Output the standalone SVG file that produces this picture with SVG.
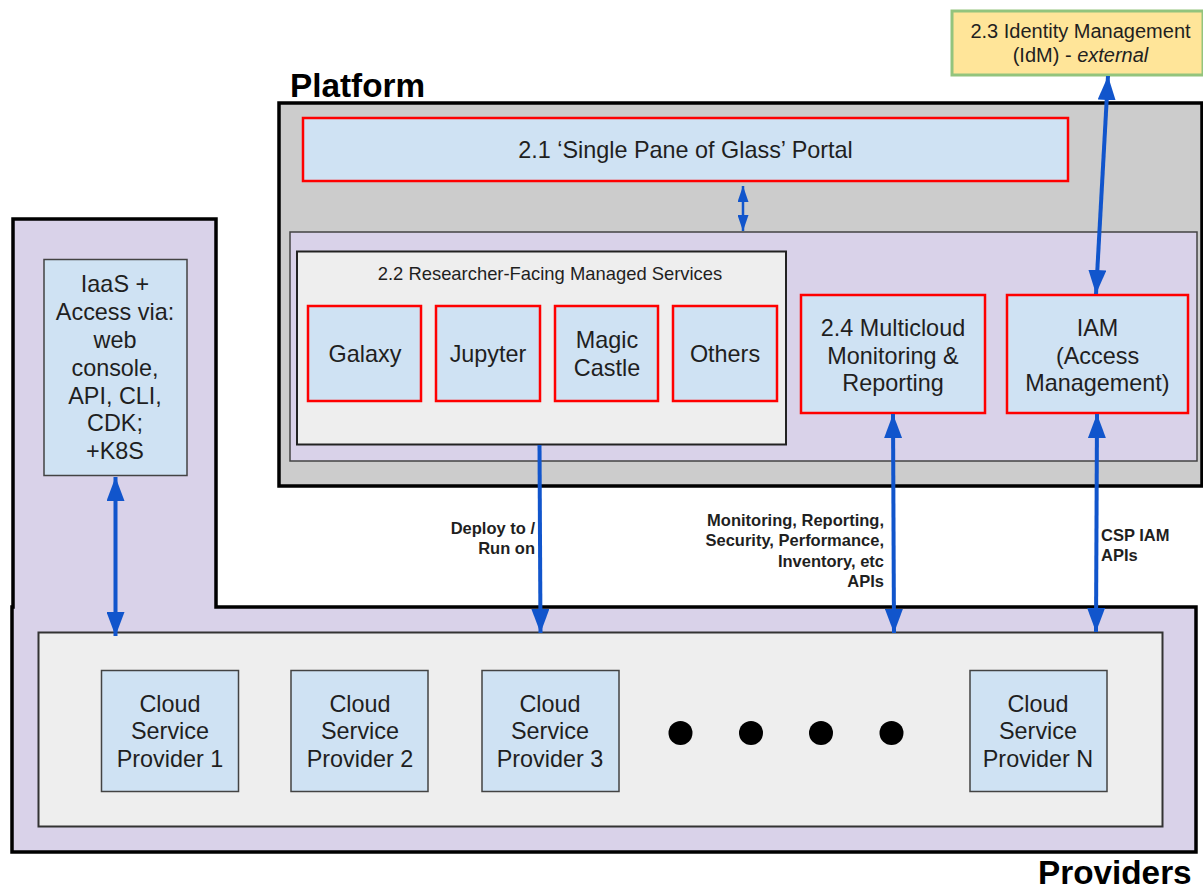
<svg xmlns="http://www.w3.org/2000/svg" width="1203" height="885" viewBox="0 0 1203 885">
<style>
text{font-family:"Liberation Sans",Arial,sans-serif;fill:#1f1f1f;text-anchor:middle}
.n{font-size:23.400px}
.t{font-size:20px}
.s{font-size:18.400px}
.l{font-size:16.500px;font-weight:bold;text-anchor:end}
.a{text-anchor:start}
.h{font-size:33.300px;font-weight:bold;fill:#000;text-anchor:start}
.blue{fill:#cfe2f3;stroke:#434343;stroke-width:1.5}
.red{fill:#cfe2f3;stroke:#ff0000;stroke-width:2.5}
.c{stroke:#1155cc;stroke-width:4;fill:none;marker-start:url(#s);marker-end:url(#e)}
.c2{stroke:#1155cc;stroke-width:2.500;fill:none;marker-start:url(#s2);marker-end:url(#e2)}
.c3{stroke:#1155cc;stroke-width:4;fill:none;marker-end:url(#e)}
</style>
<defs>
<marker id="e" markerUnits="userSpaceOnUse" markerWidth="24" markerHeight="18" refX="24" refY="9" viewBox="0 0 24 18" orient="auto"><path d="M0 0L24 9L0 18Z" fill="#1155cc"/></marker>
<marker id="s" markerUnits="userSpaceOnUse" markerWidth="24" markerHeight="18" refX="0" refY="9" viewBox="0 0 24 18" orient="auto"><path d="M24 0L0 9L24 18Z" fill="#1155cc"/></marker>
<marker id="e2" markerUnits="userSpaceOnUse" markerWidth="16" markerHeight="11" refX="16" refY="5.500" viewBox="0 0 16 11" orient="auto"><path d="M0 0L16 5.500L0 11Z" fill="#1155cc"/></marker>
<marker id="s2" markerUnits="userSpaceOnUse" markerWidth="16" markerHeight="11" refX="0" refY="5.500" viewBox="0 0 16 11" orient="auto"><path d="M16 0L0 5.500L16 11Z" fill="#1155cc"/></marker>
</defs>
<rect width="1203" height="885" fill="#fff"/>
<g id="providers">
<path d="M13 219H216V607H1196V852H12V607H13Z" fill="#d9d2e9" stroke="#000" stroke-width="3.500"/>
<rect x="38.500" y="632.500" width="1124" height="194" fill="#eeeeee" stroke="#333" stroke-width="2"/>
<text class="h" x="1038" y="884">Providers</text>
</g>
<g id="platform">
<rect x="279" y="103" width="923" height="383" fill="#cccccc" stroke="#000" stroke-width="3.500"/>
<rect x="290" y="232" width="907" height="229" fill="#d9d2e9" stroke="#434343" stroke-width="1.500"/>
<text class="h" x="290" y="97">Platform</text>
</g>
<g id="idm">
<rect x="952" y="11" width="251" height="64" fill="#ffe599" stroke="#93c47d" stroke-width="3"/>
<text class="t" x="1080.500" y="38">2.3 Identity Management</text>
<text class="t" x="1080.500" y="62">(IdM) - <tspan font-style="italic">external</tspan></text>
</g>
<g id="portal">
<rect class="red" x="303" y="118" width="765" height="63"/>
<text class="n" x="685.500" y="158">2.1 ‘Single Pane of Glass’ Portal</text>
</g>
<g id="managed-services">
<rect x="297" y="251.500" width="489" height="193" fill="#eeeeee" stroke="#222" stroke-width="2"/>
<text class="s" x="550" y="280">2.2 Researcher-Facing Managed Services</text>
</g>
<g id="galaxy"><rect class="red" x="308" y="306" width="113" height="95"/><text class="n" x="365" y="362">Galaxy</text></g>
<g id="jupyter"><rect class="red" x="436" y="306" width="104" height="95"/><text class="n" x="488" y="362">Jupyter</text></g>
<g id="magic-castle"><rect class="red" x="555" y="306" width="103" height="95"/><text class="n" x="607" y="348">Magic</text><text class="n" x="607" y="376">Castle</text></g>
<g id="others"><rect class="red" x="673" y="306" width="104" height="95"/><text class="n" x="725" y="362">Others</text></g>
<g id="monitoring"><rect class="red" x="801" y="295" width="184" height="118"/><text class="n" x="893" y="336">2.4 Multicloud</text><text class="n" x="893" y="364">Monitoring &amp;</text><text class="n" x="893" y="391">Reporting</text></g>
<g id="iam"><rect class="red" x="1007" y="295" width="181" height="118"/><text class="n" x="1097.500" y="336">IAM</text><text class="n" x="1097.500" y="364">(Access</text><text class="n" x="1097.500" y="391">Management)</text></g>
<g id="iaas"><rect class="blue" x="44" y="259.500" width="143" height="216"/>
<text class="n" x="115" y="292">IaaS +</text><text class="n" x="115" y="320">Access via:</text><text class="n" x="115" y="348">web</text><text class="n" x="115" y="376">console,</text><text class="n" x="115" y="404">API, CLI,</text><text class="n" x="115" y="431">CDK;</text><text class="n" x="115" y="459">+K8S</text></g>
<g id="csp1"><rect class="blue" x="101.500" y="670.500" width="137" height="121"/><text class="n" x="170" y="712">Cloud</text><text class="n" x="170" y="739">Service</text><text class="n" x="170" y="767">Provider 1</text></g>
<g id="csp2"><rect class="blue" x="291" y="670.500" width="137" height="121"/><text class="n" x="360" y="712">Cloud</text><text class="n" x="360" y="739">Service</text><text class="n" x="360" y="767">Provider 2</text></g>
<g id="csp3"><rect class="blue" x="482" y="670.500" width="137" height="121"/><text class="n" x="550" y="712">Cloud</text><text class="n" x="550" y="739">Service</text><text class="n" x="550" y="767">Provider 3</text></g>
<g id="cspn"><rect class="blue" x="970" y="670.500" width="137" height="121"/><text class="n" x="1038" y="712">Cloud</text><text class="n" x="1038" y="739">Service</text><text class="n" x="1038" y="767">Provider N</text></g>
<g id="dots" fill="#000"><circle cx="680.500" cy="733" r="12"/><circle cx="751" cy="733" r="12"/><circle cx="821" cy="733" r="12"/><circle cx="891.500" cy="733" r="12"/></g>
<g id="connectors">
<path class="c" d="M1108 76L1096 294"/>
<path class="c2" d="M743 186V231"/>
<path class="c" d="M115.500 477V636"/>
<path class="c3" d="M539.500 445L540.500 633"/>
<path class="c" d="M893 414L894 633"/>
<path class="c" d="M1097 414L1096 632"/>
</g>
<g id="labels">
<text class="l" x="535" y="534">Deploy to /</text><text class="l" x="535" y="554">Run on</text>
<text class="l" x="884" y="526">Monitoring, Reporting,</text><text class="l" x="884" y="546">Security, Performance,</text><text class="l" x="884" y="567">Inventory, etc</text><text class="l" x="884" y="587">APIs</text>
<text class="l a" x="1101" y="541">CSP IAM</text><text class="l a" x="1101" y="561">APIs</text>
</g>
</svg>
